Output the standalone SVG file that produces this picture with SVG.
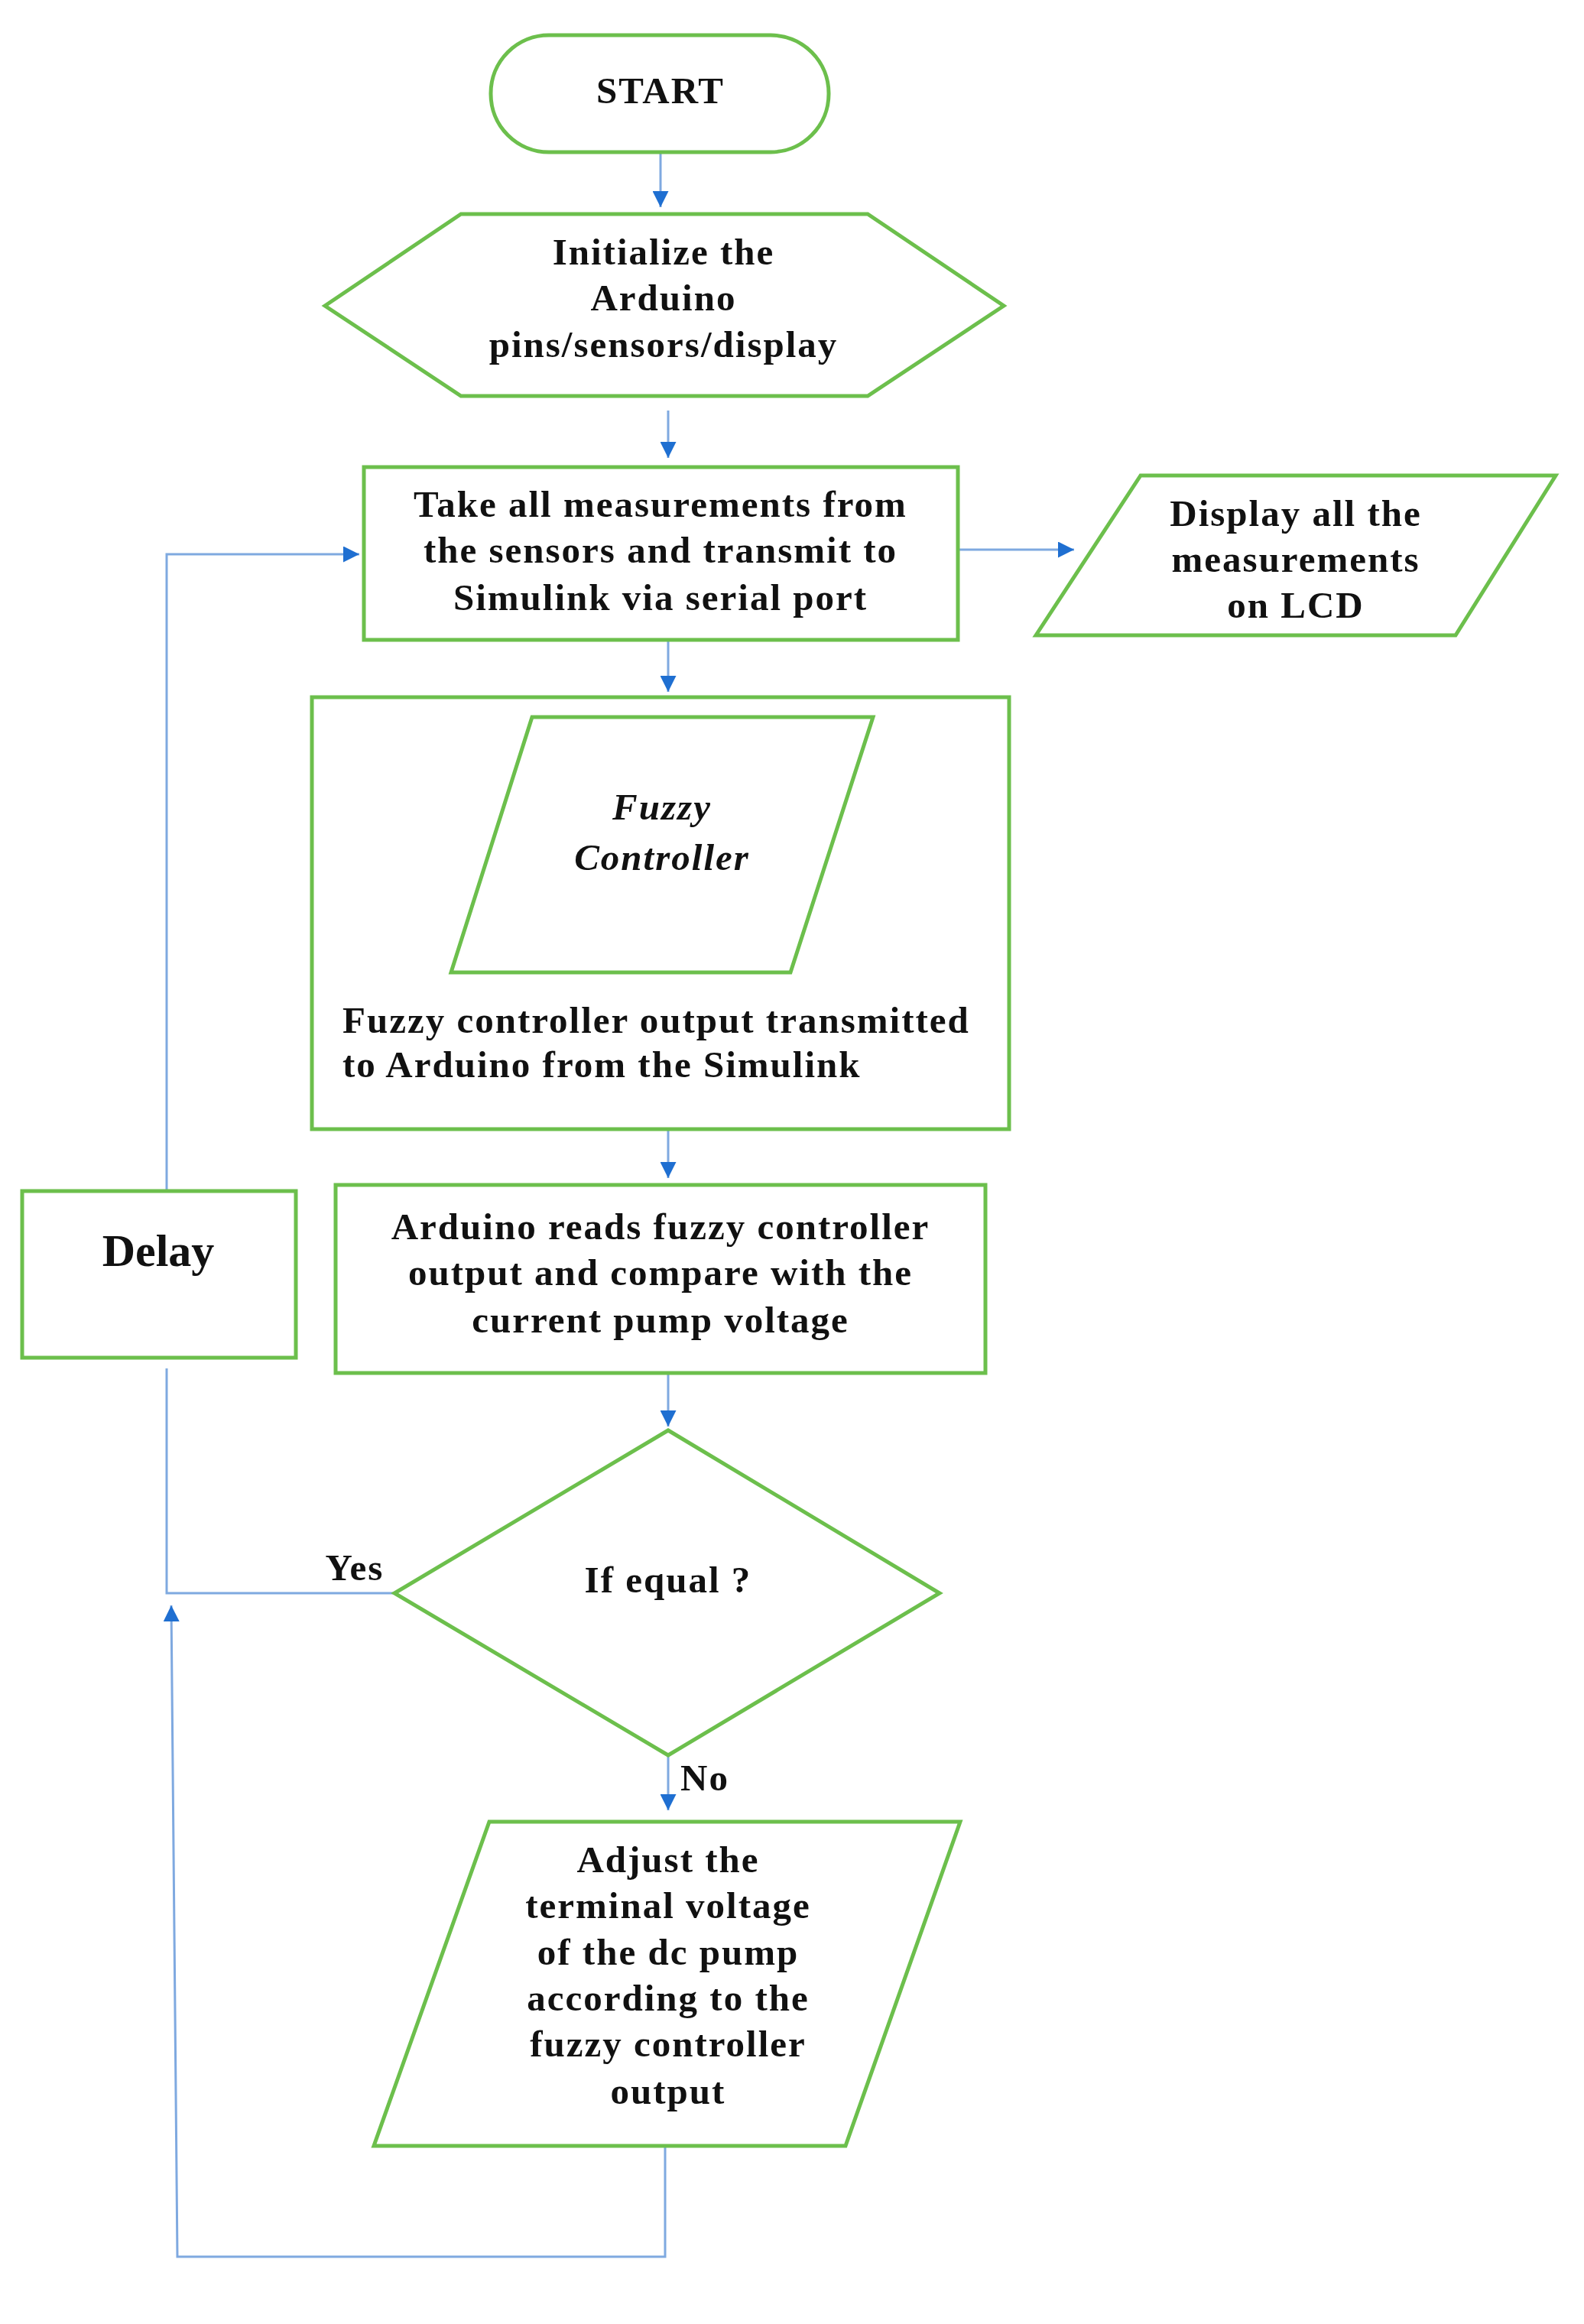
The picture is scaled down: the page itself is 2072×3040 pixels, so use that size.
<svg xmlns="http://www.w3.org/2000/svg" width="2072" height="3040" viewBox="0 0 2072 3040">
<style>
.n{fill:#fff;stroke:#6cbf4c;stroke-width:5}
.c{fill:none;stroke:#7fa9e0;stroke-width:3}
text{font-family:"Liberation Serif","Times New Roman",serif;font-weight:bold;font-size:49px;letter-spacing:2px;fill:#111;text-anchor:middle}
</style>
<defs><marker id="a" viewBox="0 0 10 10" refX="10" refY="5" markerWidth="7" markerHeight="7" orient="auto" markerUnits="strokeWidth"><path d="M0,0L10,5L0,10z" fill="#1f6fd1"/></marker></defs>
<rect width="2072" height="3040" fill="#fff"/>
<g id="connectors">
<line class="c" x1="864" y1="199" x2="864" y2="271" marker-end="url(#a)"/>
<line class="c" x1="874" y1="537" x2="874" y2="599" marker-end="url(#a)"/>
<line class="c" x1="1253" y1="719" x2="1405" y2="719" marker-end="url(#a)"/>
<line class="c" x1="874" y1="837" x2="874" y2="905" marker-end="url(#a)"/>
<line class="c" x1="874" y1="1477" x2="874" y2="1541" marker-end="url(#a)"/>
<line class="c" x1="874" y1="1796" x2="874" y2="1866" marker-end="url(#a)"/>
<line class="c" x1="874" y1="2296" x2="874" y2="2368" marker-end="url(#a)"/>
<polyline class="c" points="516,2084 218,2084 218,1790"/>
<polyline class="c" points="218,1556 218,725 470,725" marker-end="url(#a)"/>
<polyline class="c" points="870,2807 870,2952 232,2952 224,2100" marker-end="url(#a)"/>
<text x="464" y="2067">Yes</text>
<text x="922" y="2342">No</text>
</g>
<g id="start"><rect class="n" x="642" y="46" width="442" height="153" rx="76"/><text x="864" y="135">START</text></g>
<g id="init"><polygon class="n" points="425,400 603,280 1135,280 1313,400 1135,518 603,518"/><text x="868" y="346">Initialize the</text><text x="868" y="406">Arduino</text><text x="868" y="467">pins/sensors/display</text></g>
<g id="measure"><rect class="n" x="476" y="611" width="777" height="226"/><text x="864" y="676">Take all measurements from</text><text x="864" y="736">the sensors and transmit to</text><text x="864" y="798">Simulink via serial port</text></g>
<g id="display"><polygon class="n" points="1355,831 1492,622 2035,622 1904,831"/><text x="1695" y="688">Display all the</text><text x="1695" y="748">measurements</text><text x="1695" y="808">on LCD</text></g>
<g id="fuzzy"><rect class="n" x="408" y="912" width="912" height="565"/><polygon class="n" points="590,1272 696,938 1142,938 1034,1272"/><text x="866" y="1072" font-style="italic">Fuzzy</text><text x="866" y="1138" font-style="italic">Controller</text><text x="448" y="1351" style="text-anchor:start">Fuzzy controller output transmitted</text><text x="448" y="1409" style="text-anchor:start">to Arduino from the Simulink</text></g>
<g id="delay"><rect class="n" x="29" y="1558" width="358" height="218"/><text x="207" y="1656" style="font-size:60px;letter-spacing:0">Delay</text></g>
<g id="compare"><rect class="n" x="439" y="1550" width="850" height="246"/><text x="864" y="1621">Arduino reads fuzzy controller</text><text x="864" y="1681">output and compare with the</text><text x="864" y="1743">current pump voltage</text></g>
<g id="decision"><polygon class="n" points="874,1871 1229,2084 874,2296 516,2084"/><text x="874" y="2083">If equal ?</text></g>
<g id="adjust"><polygon class="n" points="489,2807 640,2383 1256,2383 1106,2807"/><text x="874" y="2449">Adjust the</text><text x="874" y="2509">terminal voltage</text><text x="874" y="2570">of the dc pump</text><text x="874" y="2630">according to the</text><text x="874" y="2690">fuzzy controller</text><text x="874" y="2752">output</text></g>
</svg>
